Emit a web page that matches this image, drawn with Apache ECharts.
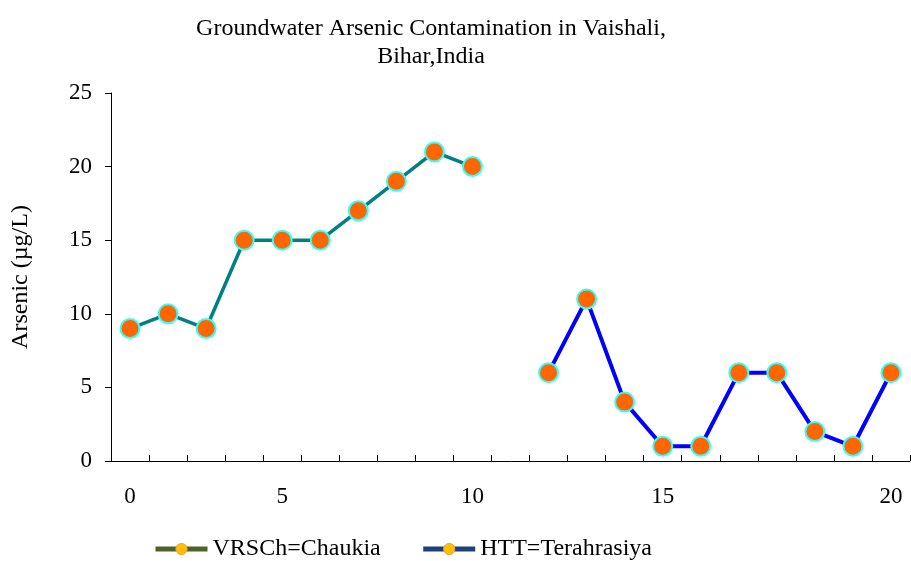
<!DOCTYPE html>
<html>
<head>
<meta charset="utf-8">
<script src="https://cdn.jsdelivr.net/npm/echarts@6/dist/echarts.min.js"></script>
<style>
  html, body { margin: 0; padding: 0; background: #fff; }
  #chart { width: 911px; height: 561px; }
</style>
</head>
<body>
<div id="chart"></div>
<script>
// x axis categories (label shown only where text is set)
const xLabels = ['0', '', '', '', '5', '', '', '', '', '10', '', '', '', '', '15', '', '', '', '', '', '20'];
// arsenic values in µg/L, one per category
const chaukia = [9, 10, 9, 15, 15, 15, 17, 19, 21, 20, null, null, null, null, null, null, null, null, null, null, null];
const terahrasiya = [null, null, null, null, null, null, null, null, null, null, null, 6, 11, 4, 1, 1, 6, 6, 2, 1, 6];
const yTicks = [0, 5, 10, 15, 20, 25];

const serif = '"Liberation Serif", "DejaVu Serif", serif';
const chart = echarts.init(document.getElementById('chart'));

const marker = {
  color: '#ff6600',
  borderColor: '#33ffff',
  borderWidth: 2
};

chart.setOption({
  animation: false,
  title: {
    text: 'Groundwater Arsenic Contamination in Vaishali,\nBihar,India',
    left: 426,
    textAlign: 'center',
    top: 10,
    textStyle: { fontFamily: serif, fontSize: 24, fontWeight: 'normal', color: '#000', lineHeight: 28 }
  },
  legend: {
    top: 537,
    left: 153,
    itemWidth: 52,
    itemHeight: 14,
    itemGap: 40,
    padding: 0,
    textStyle: { fontFamily: serif, fontSize: 24, color: '#000' },
    data: [
      { name: 'VRSCh=Chaukia', itemStyle: { color: '#ffc000', borderColor: '#f0a030', borderWidth: 1 }, lineStyle: { color: '#4f6228', width: 5 } },
      { name: 'HTT=Terahrasiya', itemStyle: { color: '#ffc000', borderColor: '#f0a030', borderWidth: 1 }, lineStyle: { color: '#1f3f7d', width: 5 } }
    ]
  },
  grid: { left: 111, right: 1, top: 93, bottom: 100 },
  xAxis: {
    type: 'category',
    data: xLabels,
    boundaryGap: true,
    axisLine: { show: true, lineStyle: { color: '#000', width: 1 } },
    axisTick: { show: true, inside: true, length: 6, interval: 0, alignWithLabel: false, lineStyle: { color: '#000' } },
    axisLabel: { interval: 0, margin: 24, fontFamily: serif, fontSize: 23, color: '#000' },
    splitLine: { show: false }
  },
  yAxis: {
    type: 'value',
    min: yTicks[0],
    max: yTicks[yTicks.length - 1],
    interval: 5,
    name: 'Arsenic (µg/L)',
    nameLocation: 'middle',
    nameGap: 78,
    nameTextStyle: { fontFamily: serif, fontSize: 24, color: '#000' },
    axisLine: { show: true, lineStyle: { color: '#000', width: 1 } },
    axisTick: { show: true, length: 6, lineStyle: { color: '#000' } },
    axisLabel: { margin: 19, fontFamily: serif, fontSize: 23, color: '#000' },
    splitLine: { show: false }
  },
  series: [
    {
      name: 'VRSCh=Chaukia',
      type: 'line',
      data: chaukia,
      symbol: 'circle',
      symbolSize: 19,
      lineStyle: { color: '#008080', width: 3.5 },
      itemStyle: marker,
      z: 3
    },
    {
      name: 'HTT=Terahrasiya',
      type: 'line',
      data: terahrasiya,
      symbol: 'circle',
      symbolSize: 19,
      lineStyle: { color: '#0000ff', width: 4 },
      itemStyle: marker,
      z: 3
    }
  ]
});
</script>
</body>
</html>
